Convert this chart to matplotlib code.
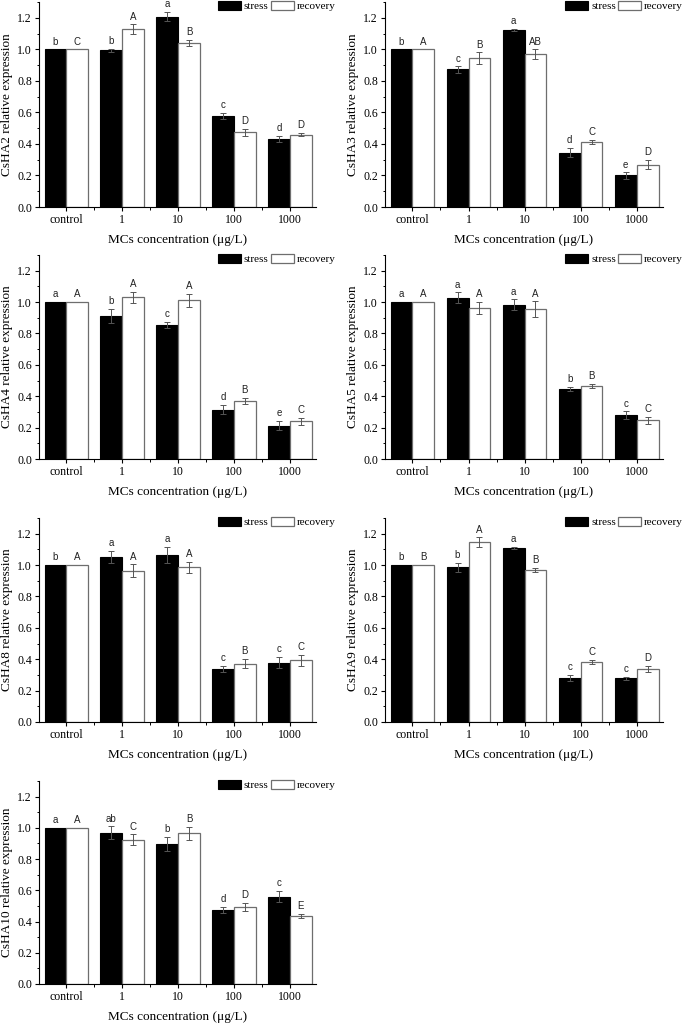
import numpy as np
import matplotlib
matplotlib.use("Agg")
import matplotlib.pyplot as plt
from matplotlib.ticker import MultipleLocator, FixedLocator, FormatStrFormatter

categories = ["control", "1", "10", "100", "1000"]
genes = ["CsHA2", "CsHA3", "CsHA4", "CsHA5", "CsHA8", "CsHA9", "CsHA10"]

stress_vals = {
    "CsHA2": [1.00, 0.993, 1.208, 0.577, 0.433],
    "CsHA3": [1.00, 0.872, 1.121, 0.345, 0.200],
    "CsHA4": [1.00, 0.911, 0.852, 0.314, 0.212],
    "CsHA5": [1.00, 1.027, 0.983, 0.448, 0.281],
    "CsHA8": [1.00, 1.051, 1.066, 0.340, 0.378],
    "CsHA9": [1.00, 0.986, 1.107, 0.280, 0.278],
    "CsHA10": [1.00, 0.970, 0.899, 0.475, 0.560],
}
stress_err = {
    "CsHA2": [0.0, 0.010, 0.030, 0.020, 0.020],
    "CsHA3": [0.0, 0.020, 0.007, 0.030, 0.020],
    "CsHA4": [0.0, 0.045, 0.020, 0.030, 0.030],
    "CsHA5": [0.0, 0.035, 0.035, 0.012, 0.023],
    "CsHA8": [0.0, 0.040, 0.050, 0.020, 0.035],
    "CsHA9": [0.0, 0.028, 0.007, 0.020, 0.010],
    "CsHA10": [0.0, 0.040, 0.045, 0.020, 0.035],
}
recovery_vals = {
    "CsHA2": [1.00, 1.128, 1.042, 0.475, 0.458],
    "CsHA3": [1.00, 0.944, 0.970, 0.411, 0.269],
    "CsHA4": [1.00, 1.032, 1.011, 0.370, 0.240],
    "CsHA5": [1.00, 0.965, 0.955, 0.465, 0.247],
    "CsHA8": [1.00, 0.964, 0.986, 0.372, 0.395],
    "CsHA9": [1.00, 1.147, 0.969, 0.382, 0.338],
    "CsHA10": [1.00, 0.923, 0.965, 0.494, 0.435],
}
recovery_err = {
    "CsHA2": [0.0, 0.030, 0.020, 0.022, 0.010],
    "CsHA3": [0.0, 0.037, 0.030, 0.013, 0.030],
    "CsHA4": [0.0, 0.035, 0.040, 0.020, 0.023],
    "CsHA5": [0.0, 0.038, 0.050, 0.013, 0.023],
    "CsHA8": [0.0, 0.040, 0.035, 0.030, 0.035],
    "CsHA9": [0.0, 0.030, 0.013, 0.013, 0.022],
    "CsHA10": [0.0, 0.036, 0.040, 0.025, 0.013],
}
stress_letters = {
    "CsHA2": ["b", "b", "a", "c", "d"],
    "CsHA3": ["b", "c", "a", "d", "e"],
    "CsHA4": ["a", "b", "c", "d", "e"],
    "CsHA5": ["a", "a", "a", "b", "c"],
    "CsHA8": ["b", "a", "a", "c", "c"],
    "CsHA9": ["b", "b", "a", "c", "c"],
    "CsHA10": ["a", "ab", "b", "d", "c"],
}
recovery_letters = {
    "CsHA2": ["C", "A", "B", "D", "D"],
    "CsHA3": ["A", "B", "AB", "C", "D"],
    "CsHA4": ["A", "A", "A", "B", "C"],
    "CsHA5": ["A", "A", "A", "B", "C"],
    "CsHA8": ["A", "A", "A", "B", "C"],
    "CsHA9": ["B", "A", "B", "C", "D"],
    "CsHA10": ["A", "C", "B", "D", "E"],
}

SERIF = ["Liberation Serif", "DejaVu Serif"]
SANS = ["Liberation Sans", "DejaVu Sans"]

fig = plt.figure(figsize=(6.85, 10.24), dpi=100)
W, H = 685.0, 1024.0

# axes positions in pixels: (left, right, bottom, top)
col_px = [(39, 316), (385, 663)]
row_px = [(207, 2), (459, 255), (722, 518), (984, 781)]

w = 0.39
x = np.arange(len(categories))
edge_grey = "#6e6e6e"

for i, g in enumerate(genes):
    r, c = divmod(i, 2)
    l, rr = col_px[c]
    b, t = row_px[r]
    ax = fig.add_axes([l / W, 1 - b / H, (rr - l) / W, (b - t) / H])

    sv = np.array(stress_vals[g]); se = np.array(stress_err[g])
    rv = np.array(recovery_vals[g]); re_ = np.array(recovery_err[g])

    h1 = ax.bar(x - w / 2, sv, w, color="black", edgecolor="black", linewidth=0.8,
                label="stress", zorder=2)
    h2 = ax.bar(x + w / 2, rv, w, color="white", edgecolor=edge_grey, linewidth=0.9,
                label="recovery", zorder=2)
    ms = se > 0
    ax.errorbar((x - w / 2)[ms], sv[ms], yerr=se[ms], fmt="none", ecolor="#555555",
                elinewidth=0.7, capsize=2, capthick=0.7, zorder=3)
    mr = re_ > 0
    ax.errorbar((x + w / 2)[mr], rv[mr], yerr=re_[mr], fmt="none", ecolor="#555555",
                elinewidth=0.7, capsize=2, capthick=0.7, zorder=3)

    for xi, v, e, lab in zip(x - w / 2, sv, se, stress_letters[g]):
        ax.text(xi, v + e + 0.03, lab, ha="center", va="baseline",
                fontsize=7, family=SANS, color="#222222")
    for xi, v, e, lab in zip(x + w / 2, rv, re_, recovery_letters[g]):
        ax.text(xi, v + e + 0.03, lab, ha="center", va="baseline",
                fontsize=7, family=SANS, color="#222222")

    ax.set_xlim(-0.49, 4.47)
    ax.set_ylim(0, 1.3)
    ax.set_xticks(x)
    ax.set_xticklabels(categories, family=SERIF, fontsize=8.5)
    ax.xaxis.set_minor_locator(FixedLocator([0.5, 1.5, 2.5, 3.5]))
    ax.yaxis.set_major_locator(FixedLocator([0, 0.2, 0.4, 0.6, 0.8, 1.0, 1.2]))
    ax.yaxis.set_major_formatter(FormatStrFormatter("%.1f"))
    ax.yaxis.set_minor_locator(MultipleLocator(0.1))
    for lbl in ax.get_yticklabels():
        lbl.set_family(SERIF)
        lbl.set_fontsize(8.5)
    ax.tick_params(axis="both", which="major", direction="out", length=3, width=0.8, pad=2)
    ax.tick_params(axis="both", which="minor", direction="out", length=1.8, width=0.7)
    for s in ["top", "right"]:
        ax.spines[s].set_visible(False)
    for s in ["left", "bottom"]:
        ax.spines[s].set_linewidth(0.8)

    ax.set_xlabel("MCs concentration (μg/L)", family=SERIF, fontsize=9.5, labelpad=6)
    ax.set_ylabel(f"{g} relative expression", family=SERIF, fontsize=9.5, labelpad=3)

    ax.legend(handles=[h1, h2], labels=["stress", "recovery"], loc="upper right",
              bbox_to_anchor=(1.07, 1.005), ncol=2, frameon=False,
              borderaxespad=0, borderpad=0, handlelength=2.07, handleheight=0.9,
              handletextpad=0.25, columnspacing=0.18,
              prop={"family": SERIF, "size": 8})

fig.savefig("out.png", dpi=100)
